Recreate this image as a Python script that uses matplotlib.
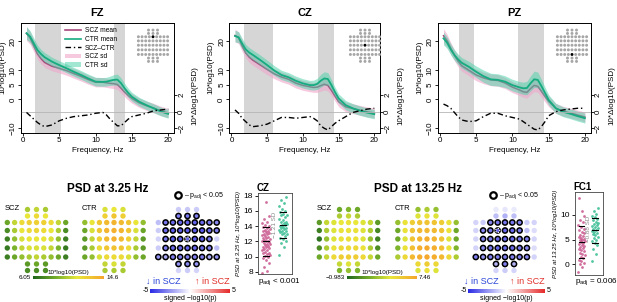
import numpy as np
import matplotlib
matplotlib.use("Agg")
import matplotlib.pyplot as plt
from matplotlib.colors import LinearSegmentedColormap
from matplotlib.lines import Line2D
from matplotlib.patches import Patch

plt.rcParams['font.family'] = ['Liberation Sans', 'DejaVu Sans']
plt.rcParams['mathtext.fontset'] = 'custom'
plt.rcParams['mathtext.rm'] = 'Liberation Sans'
plt.rcParams['mathtext.it'] = 'Liberation Sans:italic'
plt.rcParams['mathtext.bf'] = 'Liberation Sans:bold'

# ---------------- data ----------------
freqs = [0.5, 1, 1.5, 2, 2.5, 3, 4, 5, 6, 7, 8, 9, 10, 11, 11.5, 12, 12.5, 13, 13.5, 14, 14.5, 15, 16, 17, 18, 19, 20]

fz_ctr = [22.8, 21.6, 19.3, 17.0, 15.6, 14.5, 13.0, 11.8, 10.7, 9.5, 8.4, 7.2, 6.1, 6.0, 6.1, 6.4, 6.7, 6.8, 5.6, 3.8, 2.2, 0.9, -0.8, -2.0, -3.1, -4.2, -5.0]
fz_scz = [22.7, 21.1, 18.4, 15.7, 14.0, 12.7, 11.4, 10.7, 9.9, 8.9, 7.9, 6.8, 5.9, 5.9, 5.7, 5.5, 5.4, 5.1, 3.9, 2.5, 1.3, 0.3, -1.2, -2.2, -3.0, -4.0, -4.7]
fz_diff = [-0.1, -0.5, -0.9, -1.3, -1.6, -1.8, -1.6, -1.1, -0.8, -0.6, -0.5, -0.4, -0.2, -0.1, -0.4, -0.9, -1.3, -1.7, -1.7, -1.3, -0.9, -0.6, -0.4, -0.2, 0.1, 0.2, 0.3]
fz_ctr_sd = [2.2, 2.0, 1.8, 1.7, 1.6, 1.6, 1.5, 1.5, 1.5, 1.5, 1.5, 1.5, 1.5, 1.5, 1.5, 1.6, 1.8, 1.9, 1.8, 1.7, 1.6, 1.5, 1.5, 1.5, 1.5, 1.5, 1.5]
fz_scz_sd = [2.4, 2.2, 2.0, 1.9, 1.8, 1.7, 1.6, 1.6, 1.6, 1.6, 1.6, 1.6, 1.6, 1.6, 1.6, 1.6, 1.7, 1.7, 1.7, 1.6, 1.6, 1.6, 1.6, 1.6, 1.6, 1.6, 1.6]

cz_ctr = [21.8, 21.4, 19.2, 17.2, 16.1, 15.3, 13.6, 11.8, 9.9, 8.4, 7.6, 6.4, 5.5, 4.9, 4.9, 5.3, 6.4, 7.2, 7.0, 4.9, 2.5, 0.3, -2.0, -3.1, -3.9, -4.6, -5.1]
cz_scz = [22.0, 21.2, 18.4, 16.0, 14.5, 13.5, 11.9, 10.3, 8.8, 7.7, 6.9, 5.6, 4.8, 4.3, 4.1, 4.2, 4.7, 5.2, 4.8, 3.1, 1.1, -0.8, -2.6, -3.2, -3.8, -4.3, -4.7]
cz_diff = [0.2, -0.2, -0.8, -1.2, -1.6, -1.8, -1.7, -1.5, -1.1, -0.7, -0.7, -0.8, -0.7, -0.6, -0.8, -1.1, -1.7, -2.0, -2.2, -1.8, -1.4, -1.1, -0.6, -0.1, 0.1, 0.3, 0.4]
cz_ctr_sd = [2.0, 1.9, 1.8, 1.7, 1.7, 1.7, 1.7, 1.7, 1.7, 1.6, 1.6, 1.6, 1.6, 1.6, 1.7, 1.9, 2.2, 2.3, 2.2, 1.9, 1.7, 1.6, 1.6, 1.6, 1.6, 1.6, 1.6]
cz_scz_sd = [2.2, 2.0, 1.9, 1.8, 1.8, 1.8, 1.8, 1.8, 1.7, 1.7, 1.7, 1.7, 1.7, 1.7, 1.7, 1.8, 1.9, 2.0, 1.9, 1.8, 1.7, 1.7, 1.7, 1.7, 1.7, 1.7, 1.7]

pz_ctr = [21.0, 19.5, 17.2, 15.3, 13.8, 12.6, 11.2, 9.5, 8.0, 6.9, 6.7, 6.1, 4.9, 4.1, 3.8, 3.9, 5.5, 6.9, 6.7, 4.6, 2.2, -0.2, -3.1, -4.3, -5.0, -5.8, -6.5]
pz_scz = [21.9, 20.2, 17.6, 15.2, 13.2, 11.6, 10.0, 8.4, 7.4, 6.7, 6.5, 5.6, 4.2, 3.2, 2.6, 2.4, 3.7, 4.8, 4.5, 2.8, 1.0, -0.7, -3.1, -4.1, -4.7, -5.4, -6.1]
pz_diff = [0.9, 0.7, 0.4, -0.1, -0.6, -1.0, -1.2, -1.1, -0.6, -0.2, -0.2, -0.5, -0.7, -0.9, -1.2, -1.5, -1.8, -2.1, -2.2, -1.8, -1.2, -0.5, 0.0, 0.2, 0.3, 0.4, 0.4]
pz_ctr_sd = [2.2, 2.0, 1.9, 1.8, 1.8, 1.8, 1.9, 2.0, 2.1, 2.1, 2.1, 2.0, 2.0, 2.0, 2.1, 2.3, 2.6, 2.8, 2.7, 2.3, 2.0, 1.8, 1.7, 1.7, 1.7, 1.7, 1.7]
pz_scz_sd = [2.4, 2.2, 2.0, 1.9, 1.9, 1.9, 1.9, 2.0, 2.0, 2.0, 2.0, 1.9, 1.9, 1.9, 1.9, 2.0, 2.1, 2.2, 2.1, 2.0, 1.9, 1.8, 1.7, 1.7, 1.7, 1.7, 1.7]

channels = ["FZ", "CZ", "PZ"]
shaded_ranges = [[(1.7, 5.2), (12.5, 14.0)], [(1.8, 5.8), (12.1, 14.3)], [(2.6, 4.7), (10.8, 14.3)]]

# topographies (rows: Fp, AF, F, FC, C, CP, P, PO, O)
scz_325 = [[10, 10.5, 10], [11.5, 12, 11.5],
           [8.5, 10.5, 12, 12.5, 12.5, 12.5, 12, 10.5, 8.5],
           [7.5, 10, 11.5, 12, 12.2, 12, 11.5, 10, 7.5],
           [7, 9.5, 11, 11.5, 11.5, 11.5, 11, 9.5, 7],
           [6.8, 9, 10.5, 11, 11, 11, 10.5, 9, 6.8],
           [7, 8.5, 9.5, 10, 10.5, 10, 9.5, 8.5, 7],
           [8, 8.5, 8], [7.5, 7.5, 7.5]]
ctr_325 = [[11, 11.5, 11], [12.5, 13, 12.5],
           [9.5, 11.5, 13, 13.5, 13.8, 13.5, 13, 11.5, 9.5],
           [8.5, 11, 13, 13.8, 14, 13.8, 13, 11, 8.5],
           [8, 10.5, 12.5, 13.5, 14, 13.5, 12.5, 10.5, 8],
           [8, 10, 12, 13, 13.2, 13, 12, 10, 8],
           [8.5, 9.5, 11, 12, 12, 12, 11, 9.5, 8.5],
           [10.5, 11, 10.5], [10, 10, 10]]
sig_325 = [[-1.2, -1.3, -1.2], [-3, -3.2, -3],
           [-1.5, -3.2, -3.5, -3.6, -3.6, -3.6, -3.5, -3.2, -2.8],
           [-1.2, -3.5, -3.8, -3.8, -3.8, -3.8, -3.8, -3.5, -3],
           [-1, -3.2, -3.8, -3.8, -3.6, -3.8, -3.8, -3.2, -1],
           [-1.2, -3, -3.5, -3.6, -3.6, -3.6, -3.5, -3, -1.5],
           [-2.5, -2, -3, -3, -3, -3, -3, -2, -2.5],
           [-2.5, -2.8, -2.5], [-1, -1.2, -1]]
padj_325 = [[0, 0, 0], [1, 1, 1],
            [0, 1, 1, 1, 1, 1, 1, 1, 1],
            [0, 1, 1, 1, 1, 1, 1, 1, 1],
            [0, 1, 1, 1, 1, 1, 1, 1, 0],
            [0, 1, 1, 1, 1, 1, 1, 1, 0],
            [1, 1, 1, 1, 1, 1, 1, 1, 1],
            [1, 1, 1], [0, 0, 0]]

scz_1325 = [[1.5, 2, 1.5], [3, 3.5, 3],
            [1, 3.5, 4, 4.3, 4.5, 4.3, 4, 3.5, 1],
            [0, 3, 4, 4.5, 4.5, 4.5, 4, 3, 0.3],
            [-0.5, 2.5, 4, 4.5, 4.7, 4.5, 4, 2.5, 0],
            [0.5, 3, 4.5, 5, 5, 5, 4.5, 3, 0.5],
            [1.5, 3.5, 5, 5.5, 5.5, 5.5, 5, 3.5, 1.5],
            [3.5, 4, 3.5], [2, 2.5, 2]]
ctr_1325 = [[2.5, 3, 2.5], [4, 4.5, 4],
            [2.5, 4.5, 5.5, 6, 6, 6, 5.5, 4.5, 2.5],
            [1.5, 4.5, 6, 6.5, 6.5, 6.5, 6, 4.5, 1.5],
            [1.5, 4, 6, 6.7, 7, 6.7, 6, 4, 1.5],
            [2, 4.5, 6.2, 7, 7.2, 7, 6.2, 4.5, 2],
            [3, 5, 6.5, 7, 7.2, 7, 6.5, 5, 3],
            [5, 5.5, 5], [4, 4.5, 4]]
sig_1325 = [[-0.5, -0.6, -0.5], [-1.5, -1.8, -1.5],
            [-1, -1.2, -3, -3.2, -3.2, -3.2, -3, -1.2, -1],
            [-1, -2.8, -3.2, -3.5, -3.5, -3.5, -3.2, -1.5, -0.8],
            [-1, -3, -3.2, -3.5, -3.5, -3.5, -3.2, -3, -1],
            [-1, -2.8, -3.2, -3.5, -3.5, -3.5, -3.2, -2.8, -0.8],
            [-3, -2.5, -3, -3, -3, -3, -3, -2.8, -1],
            [-1.8, -3, -1.8], [-1, -1.2, -1]]
padj_1325 = [[0, 0, 0], [0, 0, 0],
             [0, 0, 1, 1, 1, 1, 1, 0, 0],
             [0, 1, 1, 1, 1, 1, 1, 0, 0],
             [0, 1, 1, 1, 1, 1, 1, 1, 0],
             [0, 1, 1, 1, 1, 1, 1, 1, 0],
             [1, 1, 1, 1, 1, 1, 1, 1, 0],
             [1, 1, 1], [0, 0, 0]]

# per-subject values at the highlighted electrode
scz_cz_325 = [7.8, 8.1, 8.6, 9.2, 9.5, 9.8, 10.0, 10.1, 10.2, 10.3, 10.4, 10.5, 10.6, 10.8, 10.9, 11.0, 11.1, 11.2, 11.3,
              11.4, 11.5, 11.6, 11.7, 11.8, 11.9, 12.0, 12.0, 12.1, 12.2, 12.3, 12.4, 12.5, 12.6, 12.7, 12.8, 12.9, 13.0,
              13.1, 13.2, 13.3, 13.4, 13.5, 13.6, 13.8, 13.9, 14.0, 14.2, 14.4, 14.6, 14.9, 15.3, 17.2]
ctr_cz_325 = [10.2, 11.2, 11.8, 12.1, 12.3, 12.5, 12.7, 12.9, 13.0, 13.1, 13.2, 13.3, 13.4, 13.5, 13.6, 13.7, 13.8, 13.9,
              14.0, 14.1, 14.2, 14.3, 14.4, 14.5, 14.6, 14.8, 15.0, 15.2, 15.4, 15.5, 15.6, 15.8, 16.0, 16.3, 16.6, 17.0,
              17.4, 17.8]
scz_fc1_1325 = [-1.5, -0.5, 0.0, 0.3, 0.6, 0.9, 1.2, 1.5, 1.8, 2.0, 2.3, 2.6, 2.9, 3.1, 3.3, 3.5, 3.7, 3.9, 4.1, 4.3,
                4.5, 4.6, 4.8, 5.0, 5.2, 5.4, 5.6, 5.8, 6.0, 6.3, 6.6, 6.9, 7.2, 7.6, 8.0, 8.5, 9.0, 9.8, 10.8, 13.5]
ctr_fc1_1325 = [0.6, 2.0, 3.0, 3.8, 4.3, 4.7, 5.0, 5.3, 5.6, 5.9, 6.1, 6.3, 6.5, 6.7, 6.9, 7.1, 7.3, 7.5, 7.7, 7.9,
                8.1, 8.3, 8.6, 8.9, 9.2, 9.5, 9.8, 10.2, 10.8, 11.4]

# ---------------- figure ----------------
W, H = 617, 302
fig = plt.figure(figsize=(W / 100, H / 100), dpi=100)


def px_axes(x0, y0, x1, y1, **kw):
    return fig.add_axes([x0 / W, 1 - y1 / H, (x1 - x0) / W, (y1 - y0) / H], **kw)


SCZ_LINE = '#a8487c'
CTR_LINE = '#16ab80'
SCZ_BAND = '#f0a6cb'
CTR_BAND = '#47d1a6'
DASH = (4, 2, 1, 2)

top_boxes = [(20.7, 23, 174, 133), (229.3, 23, 380, 133), (437.7, 23, 590.7, 133)]
series = [(fz_ctr, fz_scz, fz_diff, fz_ctr_sd, fz_scz_sd),
          (cz_ctr, cz_scz, cz_diff, cz_ctr_sd, cz_scz_sd),
          (pz_ctr, pz_scz, pz_diff, pz_ctr_sd, pz_scz_sd)]
inset_boxes = [(136, 27, 170, 65), (348, 27, 382, 65), (555, 27, 589, 65)]
highlight_row = [2, 4, 6]

row_dy = [0, 6.5, 13, 21, 29.5, 38.5, 47.5, 54.5, 61]
row_n = [3, 3, 9, 9, 9, 9, 9, 3, 3]


def layout():
    xs, ys = [], []
    for dy, n in zip(row_dy, row_n):
        step = 9 if n == 3 else 7.3
        for k in range(n):
            xs.append((k - (n - 1) / 2) * step)
            ys.append(dy)
    return np.array(xs), np.array(ys)


EX, EY = layout()
row_start = np.cumsum([0] + row_n[:-1])

TICK = dict(labelsize=5.8, length=2, width=0.6, pad=1)
f = np.array(freqs)
for i, ch in enumerate(channels):
    ctr, scz, dif, csd, ssd = [np.array(v) for v in series[i]]
    x0, y0, x1, y1 = top_boxes[i]
    ax = px_axes(*top_boxes[i])
    for lo, hi in shaded_ranges[i]:
        ax.axvspan(lo, hi, color='#d6d6d6', lw=0, zorder=0)
    ax.fill_between(f, scz - ssd, scz + ssd, color=SCZ_BAND, alpha=0.6, lw=0, zorder=1)
    ax.plot(f, scz, color=SCZ_LINE, lw=1.1, zorder=2)
    ax.fill_between(f, ctr - csd, ctr + csd, color=CTR_BAND, alpha=0.5, lw=0, zorder=3)
    ax.plot(f, ctr, color=CTR_LINE, lw=1.3, zorder=4)
    ax.set_xlim(-0.3, 20.8)
    ax.set_ylim(-11.6, 26.3)
    ax.set_xticks([0, 5, 10, 15, 20])
    ax.set_yticks([-10, 0, 5, 10, 20])
    ax.set_yticklabels(['−10', '0', '5', '10', '20'], rotation=90, va='center')
    ax.tick_params(**TICK)
    ax.set_ylabel('10*log10(PSD)', fontsize=5.8)
    ax.yaxis.set_label_coords(-14.5 / (x1 - x0), 0.6)
    ax.set_xlabel('Frequency, Hz', fontsize=5.8)
    ax.xaxis.set_label_coords(0.5, -(147 - y1) / (y1 - y0))
    for s in ax.spines.values():
        s.set_linewidth(0.6)
    ax2 = ax.twinx()
    ax2.axhline(0, color='#b5b5b5', lw=0.6)
    ax2.plot(f, dif, color='black', lw=1.0, dashes=DASH)
    ax2.set_ylim(-2.56, 10.6)
    ax2.set_yticks([-2, 0, 2])
    ax2.set_yticklabels(['−2', '0', '2'], rotation=90, va='center')
    ax2.tick_params(**TICK)
    ax2.set_ylabel('10*Δlog10(PSD)', fontsize=5.8)
    ax2.yaxis.set_label_coords(1 + 17.5 / (x1 - x0), 0.34)
    for s in ax2.spines.values():
        s.set_linewidth(0.6)
    fig.text((x0 + x1) / 2 / W, 1 - 12.5 / H, ch, ha='center', va='center', fontsize=8, fontweight='bold')
    # electrode inset
    ia = px_axes(*inset_boxes[i])
    ia.set_xlim(-34, 34)
    ia.set_ylim(68, -6)
    ia.axis('off')
    cols = ['#a6a6a6'] * len(EX)
    r = highlight_row[i]
    cols[row_start[r] + row_n[r] // 2] = 'black'
    ia.scatter(EX, EY, s=4.5, c=cols, lw=0)
    if i == 0:
        handles = [Line2D([], [], color=SCZ_LINE, lw=1.2), Line2D([], [], color=CTR_LINE, lw=1.2),
                   Line2D([], [], color='black', lw=1.0, dashes=DASH),
                   Patch(color=SCZ_BAND, alpha=0.6, lw=0), Patch(color=CTR_BAND, alpha=0.5, lw=0)]
        ax.legend(handles, ['SCZ mean', 'CTR mean', 'SCZ–CTR', 'SCZ sd', 'CTR sd'],
                  loc='upper left', bbox_to_anchor=((61 - x0) / (x1 - x0), 1.0),
                  frameon=False, fontsize=4.8, handlelength=2.4, handleheight=0.7,
                  labelspacing=0.25, handletextpad=0.5, borderpad=0.15)

# ---------------- bottom panels ----------------
psd_cmap = LinearSegmentedColormap.from_list('psd', [(0, '#1f661c'), (0.35, '#7db42c'), (0.62, '#e9e83a'), (1, '#f6a42b')])
sig_cmap = LinearSegmentedColormap.from_list('sig', ['#2a2ae6', '#ffffff', '#e62a2a'])

axb = fig.add_axes([0, 0, 1, 1])
axb.set_xlim(0, W)
axb.set_ylim(H, 0)
axb.axis('off')

TOP = 209.5


def flat(rows):
    return np.array([v for row in rows for v in row], dtype=float)


def topo(cx, vals, cmap, vmin, vmax, edges=None, mark=None):
    v = flat(vals)
    if edges is None:
        axb.scatter(cx + EX, TOP + EY, c=v, cmap=cmap, vmin=vmin, vmax=vmax, s=15, lw=0)
    else:
        e = flat(edges) > 0
        axb.scatter(cx + EX[~e], TOP + EY[~e], c=v[~e], cmap=cmap, vmin=vmin, vmax=vmax, s=15, lw=0)
        axb.scatter(cx + EX[e], TOP + EY[e], c=v[e], cmap=cmap, vmin=vmin, vmax=vmax, s=14,
                    edgecolors='black', linewidths=1.1)
    if mark is not None:
        r, k = mark
        idx = row_start[r] + k
        axb.scatter([cx + EX[idx]], [TOP + EY[idx]], s=9, facecolors='none', edgecolors='white',
                    linewidths=0.8, linestyles=(0, (1.2, 1.2)))


def hbar(x0, x1, yc, th, cmap):
    grad = np.linspace(0, 1, 256)[None, :]
    axb.imshow(grad, extent=(x0, x1, yc + th / 2, yc - th / 2), cmap=cmap, aspect='auto', interpolation='bilinear')


panels = [
    dict(title='PSD at 3.25 Hz', tx=108, scz=scz_325, ctr=ctr_325, sig=sig_325, padj=padj_325,
         cs=36.5, cc=114, cg=187.5, vmin=6.05, vmax=14.6, vlo='6.05', vhi='14.6', cb=(33, 104),
         mark=(4, 4), sb=(150, 230), legx=178),
    dict(title='PSD at 13.25 Hz', tx=418, scz=scz_1325, ctr=ctr_1325, sig=sig_1325, padj=padj_1325,
         cs=348.5, cc=427, cg=505, vmin=-0.983, vmax=7.46, vlo='−0.983', vhi='7.46', cb=(347, 417),
         mark=(3, 3), sb=(468, 545), legx=493),
]

for p in panels:
    axb.text(p['tx'], 189.5, p['title'], ha='center', va='center', fontsize=8.5, fontweight='bold')
    topo(p['cs'], p['scz'], psd_cmap, p['vmin'], p['vmax'])
    topo(p['cc'], p['ctr'], psd_cmap, p['vmin'], p['vmax'])
    axb.text(p['cs'] - 32, 208, 'SCZ', ha='left', va='center', fontsize=5.5)
    axb.text(p['cc'] - 32, 208, 'CTR', ha='left', va='center', fontsize=5.5)
    c0, c1 = p['cb']
    hbar(c0, c1, 277.5, 3, psd_cmap)
    axb.text(c0 - 2, 277.5, p['vlo'], ha='right', va='center', fontsize=4.5)
    axb.text(c1 + 2, 277.5, p['vhi'], ha='left', va='center', fontsize=4.5)
    axb.text((c0 + c1) / 2, 272.5, '10*log10(PSD)', ha='center', va='center', fontsize=4.5)
    topo(p['cg'], p['sig'], sig_cmap, -5, 5, edges=p['padj'], mark=p['mark'])
    axb.scatter([p['legx']], [195], s=22, facecolors='white', edgecolors='black', linewidths=1.6)
    axb.text(p['legx'] + 6, 195.5, r'– p$_{\mathrm{adj}}$ < 0.05', ha='left', va='center', fontsize=5)
    s0, s1 = p['sb']
    hbar(s0, s1, 290.7, 4, sig_cmap)
    axb.text(s0 - 1.5, 290.7, '-5', ha='right', va='center', fontsize=5)
    axb.text(s1 + 1.5, 290.7, '5', ha='left', va='center', fontsize=5)
    axb.text((s0 + s1) / 2, 299, 'signed −log10(p)', ha='center', va='center', fontsize=5)
    axb.text(s0 - 4, 281, '↓ in SCZ', ha='left', va='center', fontsize=6.5, color='#2b45d6')
    axb.text(s1 - 35, 281, '↑ in SCZ', ha='left', va='center', fontsize=6.5, color='#e0302a')

axb.set_xlim(0, W)
axb.set_ylim(H, 0)


def strip(box, scz, ctr, ylim, yticks, xlim, title, ylabel, sd_text, sd_y, ptext):
    x0, y0, x1, y1 = box
    ax = px_axes(*box)
    for i, (vals, col) in enumerate([(scz, '#c2407f'), (ctr, '#18b382')]):
        v = np.asarray(vals, dtype=float)
        n = len(v)
        jit = ((np.arange(n) * 0.618034) % 1 - 0.5) * 0.5
        ax.scatter(i + 1 + jit, v, s=4, color=col, alpha=0.75, lw=0)
        m, s = v.mean(), v.std()
        for yv in (m - s, m, m + s):
            ax.plot([i + 1 - 0.2, i + 1 + 0.2], [yv, yv], color='black', lw=0.8)
    ax.set_xlim(*xlim)
    ax.set_ylim(*ylim)
    ax.set_xticks([])
    ax.set_yticks(yticks)
    ax.tick_params(labelsize=6, length=2.5, width=0.6, pad=1.2)
    for sp in ax.spines.values():
        sp.set_linewidth(0.6)
        sp.set_color('#444444')
    ax.text(1.5, sd_y, sd_text, rotation=90, ha='center', va='center', fontsize=4.5, color='#888888')
    ax.set_title(title, fontsize=7, fontweight='bold', loc='left', pad=1.5, x=-0.05)
    ax.set_ylabel(ylabel, fontsize=4.3, style='italic', labelpad=2)
    fig.text(x0 / W, 1 - 281.5 / H, ptext, ha='left', va='center', fontsize=5.8)


strip((258, 192.7, 292, 274), scz_cz_325, ctr_cz_325, (7.7, 18.4), [8, 10, 12, 14, 16, 18], (0.53, 2.53),
      'CZ', 'PSD at 3.25 Hz, 10*log10(PSD)', '−1.21 SD', 14.1, r'p$_{\mathrm{adj}}$ < 0.001')
strip((575, 191.7, 603, 275), scz_fc1_1325, ctr_fc1_1325, (-2.2, 14.7), [0, 5, 10], (0.5, 2.6),
      'FC1', 'PSD at 13.25 Hz, 10*log10(PSD)', '−0.88 SD', 7.2, r'p$_{\mathrm{adj}}$ = 0.006')

fig.savefig('out.png', dpi=100)
